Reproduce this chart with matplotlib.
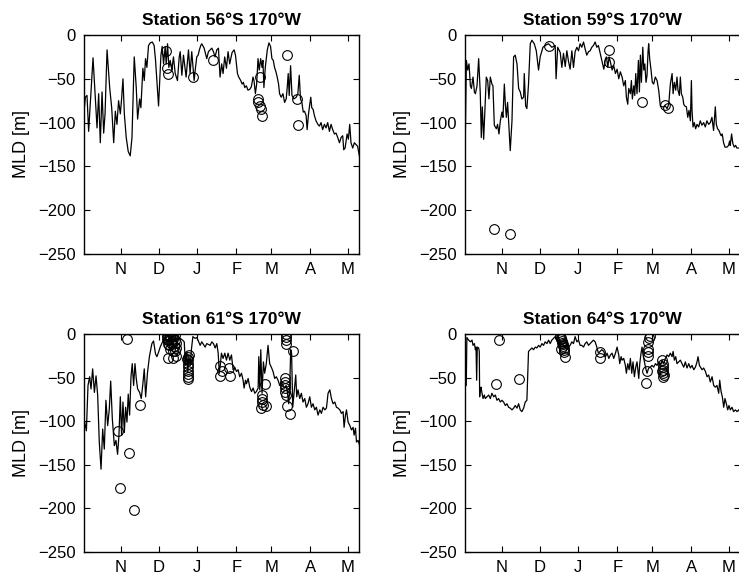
import matplotlib
matplotlib.use("Agg")
import matplotlib.pyplot as plt

plt.rcParams['font.family'] = ['Liberation Sans', 'DejaVu Sans']

# x axis: days counted from 1 October; month starts used for ticks
month_days = [31, 61, 92, 123, 151, 182, 212]
month_labels = ['N', 'D', 'J', 'F', 'M', 'A', 'M']
y_ticks = [0, -50, -100, -150, -200, -250]

# ---- Station 56S 170W ----
s56_day = [1.5, 2.6, 3.9, 5.2, 8.7, 10.3, 11.9, 13.2, 14.5, 15.9, 17.2, 18.3, 19.9, 22, 23.6,
           25.2, 26.5, 27.8, 29.1, 30.5, 31.5, 32.6, 33.7, 35.2, 36.8, 38.4, 39.8, 41.6, 43.2,
           44.3, 45.9, 46.9, 48.5, 49.6, 50.6, 51.7, 53, 54.4, 56, 57.5, 58.6, 61, 62.9, 63.9,
           65, 66.3, 67.1, 68.2, 69.2, 70.3, 71.6, 72.9, 74.3, 76.1, 77.5, 78.3, 79.6, 80.9,
           83, 84.9, 86.2, 87.5, 89.4, 90.5, 91.5, 92.6, 93.6, 94.7, 95.5, 97.4, 99.5, 100.8,
           102.1, 103.5, 104.8, 106.1, 107.5, 108.8, 110.1, 111.4, 112.5, 113.8, 115.2, 116.5,
           117.8, 119.7, 121.3, 122.4, 124, 125, 126.6, 127.7, 128.7, 129.8, 131.1, 132.4,
           133.8, 135.1, 136.4, 137.2, 138.3, 139.3, 140.4, 141.4, 142.5, 143.6, 144.3, 145.1,
           146.2, 147.8, 149.1, 150.4, 151.5, 152.6, 153.6, 154.7, 155.7, 156.8, 157.6, 158.9,
           160.3, 161.6, 162.9, 163.7, 164.5, 165.3, 166.4, 167.5, 169.1, 170.9, 172.2, 173.3,
           174.3, 175.4, 176.5, 177.5, 178.8, 179.6, 180.7, 181.7, 182.5, 183.3, 184.4, 185.4,
           186.7, 188.2, 189.4, 190.7, 192, 193.4, 194.7, 196, 197.4, 198.7, 200, 201.4, 202.7,
           204, 205.4, 206.7, 208, 208.8, 209.9, 211.5, 212.5, 213.6, 214.6, 216, 217.3, 218.6,
           219.9, 221.3]
s56_mld = [-88, -71, -69, -110, -26, -67, -106, -67, -123, -65, -112, -90, -17, -60, -83,
           -123, -87, -102, -75, -90, -73, -50, -90, -117, -133, -138, -117, -25, -60,
           -96, -73, -83, -38, -52, -27, -37, -12, -9, -8, -12, -29, -81, -23, -13,
           -33, -13, -33, -10, -37, -29, -40, -25, -44, -52, -25, -19, -46, -23,
           -48, -17, -44, -19, -52, -37, -25, -23, -17, -12, -10, -15, -27, -19,
           -17, -15, -19, -25, -17, -15, -48, -33, -44, -25, -38, -19,
           -33, -20, -17, -23, -44, -48, -52, -56, -54, -60, -58, -63,
           -62, -59, -48, -52, -67, -56, -27, -40, -27, -37, -29, -60,
           -37, -17, -9, -13, -27, -29, -37, -42, -48, -56, -67, -71,
           -67, -77, -73, -60, -44, -69, -35, -69, -73, -71, -67, -46,
           -73, -77, -88, -87, -92, -108, -90, -79, -71, -83, -85, -92,
           -98, -102, -104, -100, -108, -102, -106, -100, -110, -102, -108, -113, -112,
           -117, -123, -117, -115, -131, -129, -113, -119, -102, -123, -129, -123, -125,
           -127, -138]
s56_obs_day = [66.6, 68, 68.8, 88.2, 104.1, 141.9, 140.5, 140.5, 141.9, 142.6, 143.2,
               163.6, 171.9, 172.7]
s56_obs_mld = [-18, -38, -44, -48, -28, -48, -73, -77, -81, -84, -93, -23, -73, -103]

# ---- Station 59S 170W ----
s59_day = [1.5, 2.6, 3.6, 4.7, 5.8, 6.6, 7.9, 9, 9.8, 11.1, 12.4, 13.7, 14.5, 15.3, 16.4,
           17.5, 18.5, 19.6, 20.6, 21.7, 23, 23.8, 24.9, 26.5, 27.5, 28.6, 29.7, 31, 31.8,
           32.9, 33.7, 34.5, 35.5, 36.6, 37.6, 39, 40.3, 41.6, 43, 44.3, 45.6, 46.9, 48.3,
           48.8, 49.9, 50.9, 52.2, 53.6, 54.9, 56.8, 58.4, 60.2, 61.5, 63.7, 65.5, 68.2,
           70.8, 73.5, 74.2, 75.5, 77.5, 78.8, 80.1, 81.5, 82.8, 84.1, 85.4, 86.8, 88.1,
           89.4, 90.8, 92.1, 93.4, 94.7, 96.1, 97.4, 98.7, 100.1, 101.4, 102.7, 104, 105.4,
           106.7, 108, 109.4, 110.7, 112.3, 113.6, 114.4, 115.5, 116.5, 117.6, 118.9,
           120.2, 121.6, 122.9, 124.2, 125.5, 126.9, 128.2, 129.5, 130.3, 131.4, 132.2,
           133.5, 134.3, 135.1, 136.2, 137, 137.8, 138.8, 139.9, 140.7, 141.5, 142.3, 143.4,
           144.2, 145, 146, 146.8, 147.6, 148.1, 148.9, 150, 151, 152.1, 153.4, 154.8, 156.1,
           157.4, 158.8, 160.1, 161.4, 162.8, 164.1, 165.4, 166.8, 167.6, 168.6, 169.7,
           170.7, 171.5, 172.6, 173.4, 174.2, 175.3, 176.1, 176.9, 178.2, 179.3, 180.3,
           181.4, 182.2, 182.7, 183.5, 184.5, 185.6, 186.7, 188, 189.3, 190.6, 192, 193.3,
           194.6, 196, 197.3, 198.6, 199.9, 201.3, 202.1, 203.1, 204.2, 205.3, 206, 206.8,
           207.9, 209, 210.6, 211.9, 212.7, 213.2, 214.3, 215.3, 216.4, 217.5, 218.5, 219.8,
           221]
s59_mld = [-143, -29, -40, -33, -58, -61, -48, -65, -67, -58, -27, -67, -117, -82, -119,
           -81, -48, -52, -73, -48, -56, -58, -103, -107, -102, -113, -98, -88, -94,
           -56, -79, -94, -77, -105, -132, -98, -25, -23, -33, -61, -65, -73, -71,
           -44, -81, -84, -56, -10, -6, -10, -18, -40, -25, -14, -12, -10,
           -14, -12, -50, -14, -20, -37, -21, -36, -18, -30, -39, -18, -37,
           -19, -14, -18, -10, -14, -8, -16, -23, -19, -18, -14, -12, -8,
           -14, -12, -21, -29, -39, -27, -25, -37, -25, -31, -40,
           -35, -44, -39, -50, -42, -48, -58, -52, -71, -79, -61,
           -67, -52, -73, -58, -69, -44, -67, -29, -65, -23, -54, -14,
           -40, -33, -54, -46, -19, -10, -27, -40, -54, -56, -48, -52, -63,
           -81, -82, -82, -81, -84, -79, -56, -44, -67, -54, -63,
           -48, -63, -69, -48, -67, -71, -79, -81, -82, -94, -86,
           -98, -52, -86, -105, -100, -107, -102, -105, -98, -103, -100, -105,
           -98, -102, -100, -94, -109, -82, -102, -107, -109, -113, -115, -113,
           -123, -128, -128, -126, -121, -126, -113, -124, -128, -126, -129, -129,
           -129]
s59_obs_day = [24.9, 37.6, 68.7, 116.8, 116.8, 142.5, 161.2, 163.3]
s59_obs_mld = [-222, -227, -12, -17, -31, -77, -80, -83]

# ---- Station 61S 170W ----
s61_day = [1.5, 2, 3.4, 4.7, 6, 7.1, 8.4, 9.8, 11.1, 12.4, 13.7, 15.1, 16.4, 17.7, 19, 20.4,
           21.7, 22.8, 24.1, 25.7, 27, 28.3, 29.4, 30.5, 31.5, 32.6, 33.7, 34.7, 35.8, 36.8,
           37.9, 39, 40, 41.1, 42.2, 43.2, 44.3, 45.9, 47.2, 48.5, 49.6, 50.7, 52.2, 53.8,
           55.7, 57, 58.6, 59.7, 61, 62.3, 64.2, 66.3, 67.7, 69.5, 70.8, 72.2, 73.5, 75.1,
           76.7, 78.3, 80.1, 81.5, 82.5, 83.6, 84.4, 85.2, 86.3, 87.3, 88.4, 90.2, 91.6,
           94.2, 95.5, 98.2, 99.5, 102.2, 103.5, 104.8, 106.2, 107.5, 108.6, 109.5, 110.4,
           111.2, 112.5, 113.9, 115.2, 116.5, 117.9, 119.2, 120.5, 121.8, 123.2, 124.5,
           125.8, 127.2, 128.5, 129.3, 130.4, 131.2, 132.5, 133.8, 135.2, 136.5, 137.8,
           139.1, 140.5, 141, 141.8, 142.6, 143.6, 144.7, 145.7, 147, 148.4, 149.7, 151,
           152.4, 153.7, 155, 156.4, 157.7, 159, 160.4, 161.7, 162.8, 163.8, 164.9, 165.7,
           166.5, 167.2, 168.1, 169.1, 170.5, 171.3, 172.3, 173.7, 175, 176.3, 177.7, 179,
           180.3, 181.7, 183, 184.3, 185.7, 187, 188.3, 189.7, 191, 192.3, 193.7, 195,
           196.3, 197.7, 199, 200.3, 201.7, 203, 204.3, 205.7, 207, 208.3, 209.1, 210.2,
           211, 212.3, 213.7, 215, 216.3, 217.1, 218.2, 219, 220.3, 221.5]
s61_mld = [-105, -101, -111, -59, -49, -63, -40, -67, -48, -70, -124, -155, -109, -132, -76,
           -105, -86, -54, -97, -128, -122, -138, -116, -72, -116, -78, -113, -84, -101, -69,
           -93, -49, -34, -59, -34, -51, -63, -67, -74, -57, -40, -72, -44, -25,
           -11, -8, -23, -26, -21, -15, -9, -5, -3, -3, -5, -4, -5, -6,
           -5, -5, -7, -9, -36, -21, -44, -25, -36, -17, -3, -5, -4,
           -13, -9, -15, -11, -13, -9, -11, -16, -11, -22, -45, -34,
           -22, -28, -22, -30, -22, -30, -24, -41, -38, -43, -41,
           -49, -45, -53, -62, -53, -57, -51, -61, -66, -62, -68,
           -66, -62, -26, -64, -18, -68, -32, -45, -34, -13, -34, -38,
           -43, -51, -49, -53, -59, -55, -59, -62, -59, -66, -80, -61,
           -18, -22, -84, -68, -47, -72, -64, -74, -68, -78, -74, -84,
           -80, -72, -84, -80, -87, -84, -93, -87, -91, -84, -87, -85,
           -68, -64, -74, -80, -78, -84, -85, -87, -91, -89, -107, -93,
           -87, -101, -105, -110, -107, -116, -108, -124, -122, -128]
s61_obs_day = [35.8, 28.6, 29.9, 37.1, 41.1, 46.4,
               67.5, 68.8, 70.1, 71.4, 72.7, 74, 67.5, 68.8, 70.1, 71.4, 72.7, 74,
               68.2, 69.5, 70.8, 72.1, 73.4, 74.7, 70.1, 72.4, 74.7, 68.8, 72.7, 75.3, 74.3,
               84.4, 84.4, 84.4, 84.9, 84.4, 84.9, 84.9, 84.9, 85.2, 84.1,
               110.2, 110.2, 112, 117.6, 118.1,
               143.9, 143.9, 143.9, 143.1, 146.6, 146.3, 144.4,
               162.7, 162.7, 162.7, 162.7, 161.9, 161.6, 161.6, 161.6, 161.9, 162.7,
               163.3, 165.9, 168.3]
s61_obs_mld = [-6, -111, -177, -137, -202, -81,
               -2, -1, -2, -1, -2, -1, -6, -7, -5, -8, -6, -7,
               -11, -13, -10, -12, -14, -10, -17, -19, -16, -27, -28, -25, -20,
               -26, -30, -34, -38, -42, -46, -49, -52, -24, -29,
               -48, -37, -42, -39, -48,
               -70, -74, -78, -85, -83, -57, -81,
               0, -3, -7, -11, -51, -55, -59, -62, -66, -70,
               -82, -92, -20]

# ---- Station 64S 170W ----
s64_day = [1.5, 2.5, 3, 4.4, 5.8, 7.1, 7.9, 9, 9.8, 10.3, 10.8, 11.3, 12.4, 12.9, 13.2,
           13.7, 14.3, 15.1, 15.9, 16.9, 17.7, 19, 20.4, 21.7, 23, 24.4, 25.7, 27, 28.3,
           29.7, 31, 32.3, 33.7, 35, 36.3, 37.6, 39, 40.3, 41.6, 43, 44.3, 45.6, 46.9, 48.3,
           49.6, 50.9, 52.2, 53.6, 54.9, 56.2, 57.6, 58.9, 60.2, 61.5, 62.9, 64.2, 65.5,
           66.9, 68.2, 69.5, 70.8, 72.2, 73.5, 74.8, 76.2, 77.5, 78.8, 80.1, 81.5, 82.8,
           84.1, 85.4, 86.8, 88.1, 89.4, 90.8, 92.1, 93.4, 94.7, 96.1, 97.4, 98.7, 100.1,
           101.4, 102.7, 104, 105.4, 106.7, 108, 109.4, 110.7, 112.3, 113.6, 114.9, 116.3,
           117.6, 118.9, 120.2, 121.6, 122.9, 124.2, 125, 126.1, 126.9, 128.2, 129.5, 130.3,
           131.4, 132.5, 133.5, 134.6, 135.6, 136.7, 137.8, 138.8, 140.2, 141, 142, 142.8,
           143.6, 144.7, 145.7, 146.8, 148.1, 149.5, 150.8, 152.1, 153.5, 154.8, 156.1,
           157.4, 158.8, 160.1, 161.4, 162.8, 164.1, 165.4, 166.8, 167.6, 168.6, 169.7,
           170.7, 172.1, 173.4, 174.7, 176.1, 177.4, 178.7, 180.1, 181.4, 182.7, 184.1,
           185.4, 186.7, 187.5, 188.6, 189.4, 190.7, 192, 193.4, 194.7, 196, 197.3, 198.7,
           200, 201.3, 202.6, 204, 204.8, 205.9, 206.9, 208, 209, 210.1, 211.2, 212.2,
           213.3, 214.6, 215.9, 217.3, 218.6, 219.9, 221]
s64_mld = [-60, -59, -4, -7, -9, -7, -13, -11, -18, -15, -53, -15, -16, -20, -72,
           -64, -61, -68, -74, -70, -74, -72, -70, -74, -68, -72, -70, -76, -74,
           -78, -76, -78, -82, -80, -84, -85, -87, -85, -82, -85, -80, -87, -89, -85,
           -78, -76, -20, -18, -16, -18, -15, -16, -13, -15, -11, -13, -9,
           -11, -7, -11, -7, -5, -3, -7, -3, -13, -15, -13, -16, -11,
           -15, -13, -9, -11, -3, -9, -7, -13, -13, -15, -11, -9, -13,
           -11, -9, -7, -9, -15, -22, -20, -18, -20, -26, -22, -28,
           -24, -22, -28, -22, -15, -24, -34, -26, -30, -28, -36, -45,
           -34, -41, -28, -45, -32, -49, -38, -32, -51, -34, -22, -15,
           -24, -32, -39, -45, -39, -38, -36, -38, -34, -36, -32,
           -36, -30, -34, -28, -24, -26, -22, -26, -20, -30, -26,
           -34, -32, -30, -34, -38, -32, -39, -34, -39, -36, -41,
           -38, -32, -26, -36, -38, -41, -39, -43, -49, -47, -55, -49,
           -59, -61, -59, -68, -53, -66, -72, -84, -74, -80, -87, -82,
           -87, -84, -89, -87, -89, -87, -90]
s64_obs_day = [28.9, 26.5, 44.5,
               77, 77.5, 78, 78.5, 78.8, 79.1, 79.6, 80.1, 80.4, 80.7, 80.9, 81.2, 78.5,
               109.4, 109.4,
               149, 148.4, 147.9, 147.9, 147.9, 147.4, 146.6, 146.1,
               159, 159.3, 159.6, 159.9, 159.3, 159.9, 160.3, 158.8]
s64_obs_mld = [-7, -57, -52,
               -2, -3, -5, -6, -8, -10, -12, -14, -16, -18, -21, -26, -17,
               -21, -27,
               -2, -5, -9, -17, -21, -25, -42, -56,
               -30, -34, -38, -41, -45, -49, -47, -43]

stations = [
    ('Station 56\u00b0S 170\u00b0W', s56_day, s56_mld, s56_obs_day, s56_obs_mld),
    ('Station 59\u00b0S 170\u00b0W', s59_day, s59_mld, s59_obs_day, s59_obs_mld),
    ('Station 61\u00b0S 170\u00b0W', s61_day, s61_mld, s61_obs_day, s61_obs_mld),
    ('Station 64\u00b0S 170\u00b0W', s64_day, s64_mld, s64_obs_day, s64_obs_mld),
]

W, H = 739, 577
fig = plt.figure(figsize=(W / 100, H / 100), dpi=100)

# axes boxes in pixels: left, top, width, height
boxes = [(84, 35, 275, 219), (465, 35, 275, 219),
         (84, 334, 275, 218), (465, 334, 275, 218)]

for (title, day, mld, oday, omld), (l, t, w, h) in zip(stations, boxes):
    ax = fig.add_axes([l / W, 1 - (t + h) / H, w / W, h / H])
    ax.plot(day, mld, color='black', lw=0.9)
    ax.plot(oday, omld, 'o', mfc='none', mec='black', ms=7, mew=0.8)
    ax.set_xlim(1.5, 221)
    ax.set_ylim(-250, 0)
    ax.set_xticks(month_days)
    ax.set_xticklabels(month_labels)
    ax.set_yticks(y_ticks)
    ax.tick_params(direction='in', top=True, right=True, length=4, width=0.8,
                   labelsize=12, pad=6)
    for sp in ax.spines.values():
        sp.set_linewidth(1.0)
    ax.set_title(title, fontsize=12.5, fontweight='bold', pad=7)
    ax.set_ylabel('MLD [m]', fontsize=13, labelpad=6)

fig.savefig('out.png', dpi=100)
